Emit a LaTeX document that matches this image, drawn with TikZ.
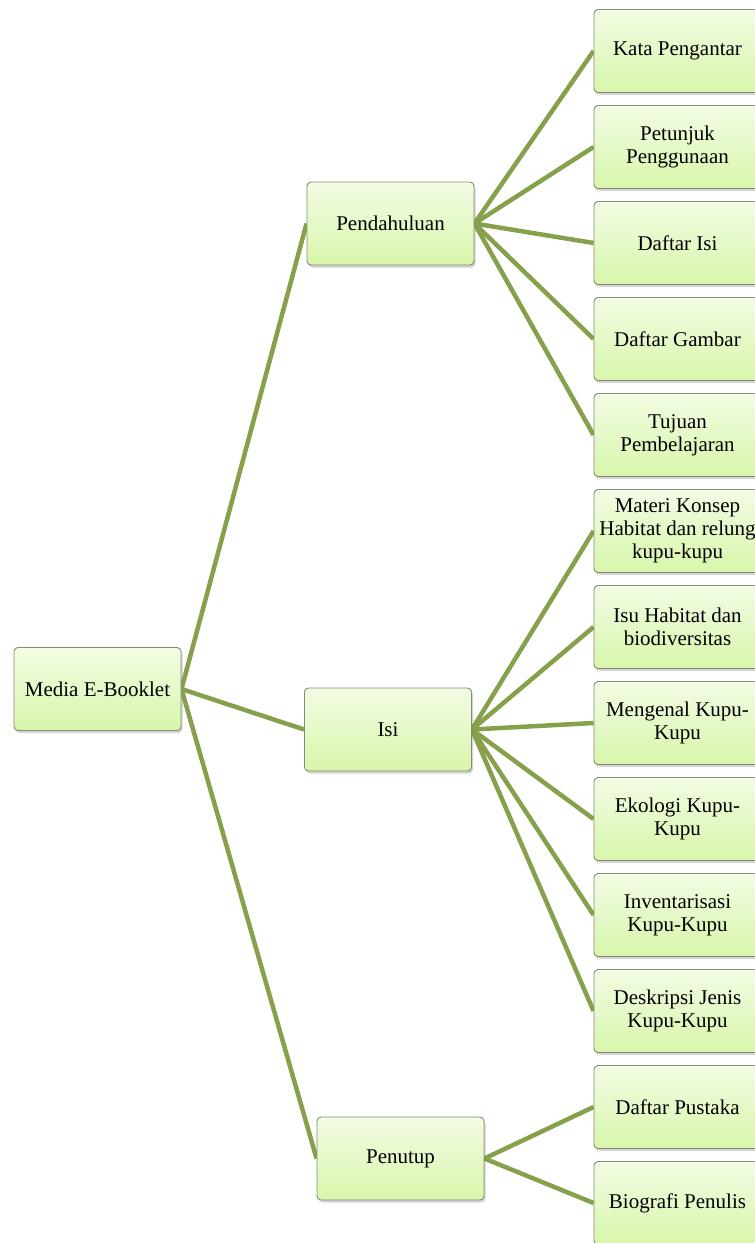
\documentclass[tikz,border=0pt]{standalone}
\usepackage{fontspec}
\setmainfont{Liberation Serif}
\usetikzlibrary{shadows,backgrounds}
\definecolor{linkgreen}{RGB}{134,160,76}
\definecolor{boxtop}{RGB}{242,252,228}
\definecolor{boxbot}{RGB}{216,246,170}
\definecolor{boxline}{RGB}{130,140,118}
\tikzset{
  box/.style={draw=boxline, line width=0.9pt, rounded corners=4pt,
    top color=boxtop, bottom color=boxbot,
    minimum width=167pt, minimum height=83pt, inner sep=1pt,
    align=center, font=\fontsize{21}{23}\selectfont,
    drop shadow={opacity=0.35, shadow xshift=1.5pt, shadow yshift=-2.5pt}},
  link/.style={draw=linkgreen, line width=4.5pt}
}
\begin{document}
\begin{tikzpicture}[x=1pt,y=-1pt]
\useasboundingbox (0,0) rectangle (755,1243);
\clip (0,0) rectangle (755,1243);
\node[box] (root) at (97.5,689) {Media E-Booklet};
\node[box] (pen) at (390.5,223.5) {Pendahuluan};
\node[box] (isi) at (388,729.5) {Isi};
\node[box] (tut) at (400.5,1158.5) {Penutup};
\node[box] (c0) at (677.5,51) {Kata Pengantar};
\node[box] (c1) at (677.5,147) {Petunjuk\\Penggunaan};
\node[box] (c2) at (677.5,243) {Daftar Isi};
\node[box] (c3) at (677.5,339) {Daftar Gambar};
\node[box] (c4) at (677.5,435) {Tujuan\\Pembelajaran};
\node[box] (c5) at (677.5,531) {Materi Konsep\\Habitat dan relung\\kupu-kupu};
\node[box] (c6) at (677.5,627) {Isu Habitat dan\\biodiversitas};
\node[box] (c7) at (677.5,723) {Mengenal Kupu-\\Kupu};
\node[box] (c8) at (677.5,819) {Ekologi Kupu-\\Kupu};
\node[box] (c9) at (677.5,915) {Inventarisasi\\Kupu-Kupu};
\node[box] (c10) at (677.5,1011) {Deskripsi Jenis\\Kupu-Kupu};
\node[box] (c11) at (677.5,1107) {Daftar Pustaka};
\node[box] (c12) at (677.5,1203) {Biografi Penulis};
\begin{pgfonlayer}{background}
\foreach \t in {pen,isi,tut} \draw[link] (root.east) -- (\t.west);
\foreach \t in {c0,c1,c2,c3,c4} \draw[link] (pen.east) -- (\t.west);
\foreach \t in {c5,c6,c7,c8,c9,c10} \draw[link] (isi.east) -- (\t.west);
\foreach \t in {c11,c12} \draw[link] (tut.east) -- (\t.west);
\end{pgfonlayer}
\end{tikzpicture}
\end{document}
